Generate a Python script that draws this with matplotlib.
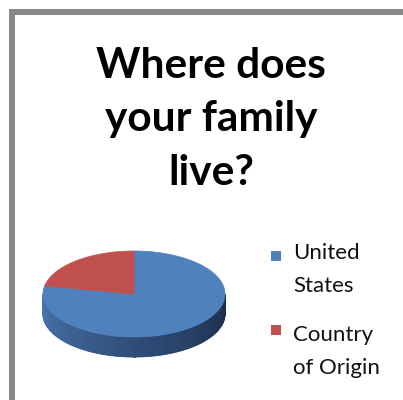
import textwrap
import numpy as np
import matplotlib
matplotlib.use("Agg")
import matplotlib.pyplot as plt
from matplotlib.patches import Polygon, Rectangle

# Survey answers (percent of respondents)
categories = ["United States", "Country of Origin"]
shares = [78, 22]
slice_colors = ["#4F81BD", "#C0504D"]
title = "Where does your family live?"

W, H = 403, 400
fig = plt.figure(figsize=(W / 100, H / 100), dpi=100)
ax = fig.add_axes([0, 0, 1, 1])
ax.set_xlim(0, W)
ax.set_ylim(H, 0)
ax.axis("off")

# chart frame (top and left edges)
frame = "#888888"
ax.add_patch(Rectangle((9, 9), W - 9, 6, color=frame, lw=0))
ax.add_patch(Rectangle((9, 9), 6, H - 9, color=frame, lw=0))

# title
for i, line in enumerate(textwrap.wrap(title, 11)):
    ax.text(211, 78 + i * 53.5, line, ha="center", va="baseline",
            fontsize=30.5, fontweight="bold", family="Lato", color="black")

# 3-D pie geometry
cx, cy, a, b, depth = 134, 294, 91, 43, 20


def rim(t):
    return cx + a * np.cos(t), cy - b * np.sin(t)


# side wall of the front half, shaded from left to right
ts = np.linspace(np.pi, 2 * np.pi, 200)
light = np.array([0x4A, 0x78, 0xB0]) / 255
mid = np.array([0x2E, 0x4C, 0x78]) / 255
dark = np.array([0x1C, 0x2E, 0x4A]) / 255
for t0, t1 in zip(ts[:-1], ts[1:]):
    x0, y0 = rim(t0)
    x1, y1 = rim(t1)
    f = ((t0 + t1) / 2 - np.pi) / np.pi
    if f < 0.5:
        c = light + (mid - light) * (f / 0.5)
    else:
        c = mid + (dark - mid) * ((f - 0.5) / 0.5)
    ax.add_patch(Polygon([(x0, y0), (x1, y1), (x1, y1 + depth), (x0, y0 + depth)],
                         closed=True, facecolor=c, edgecolor=c, lw=0.6))

# top face: slices start at 12 o'clock and run clockwise
total = float(sum(shares))
start = np.pi / 2
for val, col in zip(shares, slice_colors):
    sweep = 2 * np.pi * val / total
    t = np.linspace(start, start - sweep, 300)
    xs, ys = rim(t)
    pts = [(cx, cy)] + list(zip(xs, ys))
    ax.add_patch(Polygon(pts, closed=True, facecolor=col, edgecolor=col, lw=0.5))
    start -= sweep

# legend
for i, (cat, col) in enumerate(zip(categories, slice_colors)):
    top = 251 + i * 74
    ax.add_patch(Rectangle((270.5, top - 0.5), 10, 10, facecolor=col, edgecolor=col, lw=0))
    for j, line in enumerate(textwrap.wrap(cat, 9)):
        ax.text(293, 259 + i * 82 + j * 32.5, line, ha="left", va="baseline",
                fontsize=16, family="Lato", color="#111111")

fig.savefig("out.png", dpi=100)
